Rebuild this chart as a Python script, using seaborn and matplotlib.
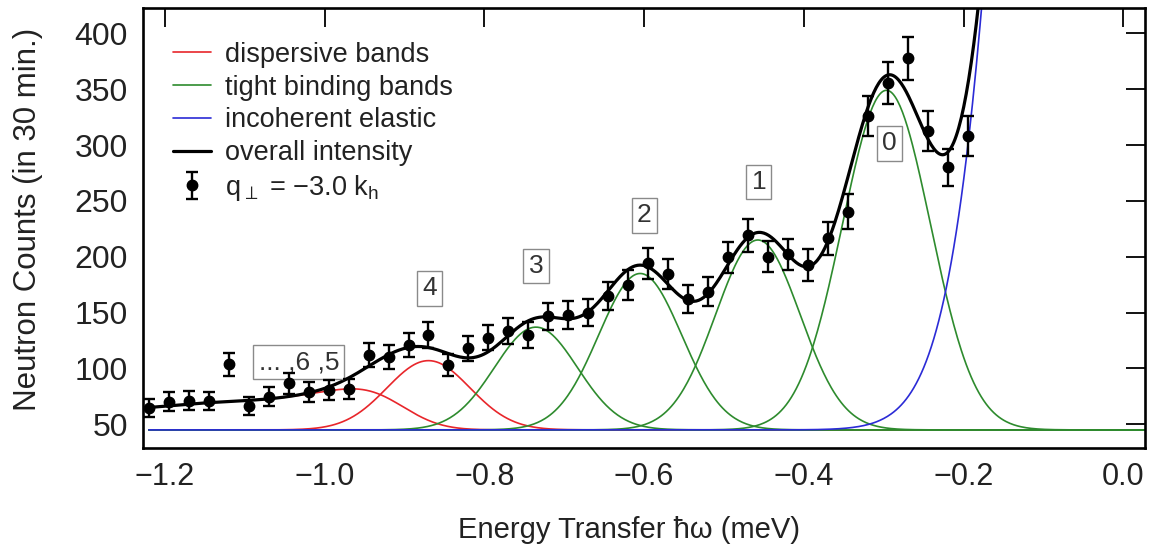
import numpy as np
import matplotlib
matplotlib.use("Agg")
import matplotlib.pyplot as plt
import seaborn as sns

# measured points: energy transfer (meV), counts, error
energy = [-1.220, -1.195, -1.170, -1.145, -1.120, -1.095, -1.070, -1.045, -1.020, -0.995,
          -0.970, -0.945, -0.920, -0.895, -0.870, -0.845, -0.820, -0.795, -0.770, -0.745,
          -0.720, -0.695, -0.670, -0.645, -0.620, -0.595, -0.570, -0.545, -0.520, -0.495,
          -0.470, -0.445, -0.420, -0.395, -0.370, -0.345, -0.320, -0.295, -0.270, -0.245,
          -0.220, -0.195]
counts = [64.3, 70.2, 71.1, 70.8, 103.7, 66.3, 74.7, 86.7, 79.1, 80.7,
          81.3, 112.0, 110.2, 120.9, 129.9, 103.0, 118.0, 127.5, 133.8, 129.9,
          146.9, 147.8, 149.9, 164.8, 174.7, 194.1, 184.5, 161.9, 168.7, 199.5,
          219.4, 200.0, 202.1, 192.6, 216.5, 240.3, 326.0, 355.2, 377.6, 312.8,
          280.0, 308.1]
errors = [8.0, 8.4, 8.4, 8.4, 10.2, 8.1, 8.6, 9.3, 8.9, 9.0,
          9.0, 10.6, 10.5, 11.0, 11.4, 10.1, 10.9, 11.3, 11.6, 11.4,
          12.1, 12.2, 12.2, 12.8, 13.2, 13.9, 13.6, 12.7, 13.0, 14.1,
          14.8, 14.1, 14.2, 13.9, 14.7, 15.5, 18.1, 18.8, 19.4, 17.7,
          16.7, 17.6]

background = 45.0

# tight binding bands 0..3
tb_centers = [-0.2967, -0.4577, -0.605, -0.7355]
tb_amps = [304, 170, 140, 92]
tb_widths = [0.055, 0.053, 0.052, 0.052]

# dispersive band 4 and the combined bands "..., 6, 5"
band4 = (-0.870, 62, 0.052)
disp_centers = [-0.94, -1.01, -1.08, -1.15, -1.22, -1.29]
disp_amps = [28, 20, 16.3, 15.4, 12.2, 10.5]
disp_width = 0.045

# incoherent elastic line
elastic = (0.0, 2650, 0.09)

band_labels = ["0", "1", "2", "3", "4", "... ,6 ,5"]
label_x = [-0.2934, -0.4564, -0.600, -0.7355, -0.8685, -1.0323]
label_y = [301.5, 267.1, 237.0, 191.7, 171.7, 105.7]

RED = "#e8262b"
GREEN = "#2e8b2e"
BLUE = "#2b2bd6"
TEXT = "#222222"


def gauss(x, c, a, s):
    return a * np.exp(-(x - c) ** 2 / (2 * s ** 2))


sns.set_theme(style="white")
plt.rcParams["font.family"] = ["Liberation Sans", "DejaVu Sans"]
plt.rcParams["mathtext.fontset"] = "custom"
plt.rcParams["mathtext.rm"] = "Liberation Sans"
plt.rcParams["text.color"] = TEXT
plt.rcParams["axes.labelcolor"] = TEXT

fig = plt.figure(figsize=(11.5, 5.57), dpi=100)
ax = fig.add_axes([0.1246, 0.1951, 0.8711, 0.79])

xg = np.linspace(-1.22, 0.03, 800)

disp_sum = sum(gauss(xg, c, a, disp_width) for c, a in zip(disp_centers, disp_amps))
red_curves = [disp_sum, gauss(xg, *band4)]
green_curves = [gauss(xg, c, a, s) for c, a, s in zip(tb_centers, tb_amps, tb_widths)]
blue_curve = gauss(xg, *elastic)
total = background + sum(red_curves) + sum(green_curves) + blue_curve

for i, yc in enumerate(red_curves):
    sns.lineplot(x=xg, y=background + yc, color=RED, lw=1.2, ax=ax,
                 label="dispersive bands" if i == 0 else None)
for i, yc in enumerate(green_curves):
    sns.lineplot(x=xg, y=background + yc, color=GREEN, lw=1.2, ax=ax,
                 label="tight binding bands" if i == 0 else None)
sns.lineplot(x=xg, y=background + blue_curve, color=BLUE, lw=1.2, ax=ax,
             label="incoherent elastic")
sns.lineplot(x=xg, y=total, color="black", lw=2.3, ax=ax, label="overall intensity")

ax.errorbar(energy, counts, yerr=errors, fmt="o", color="black", ms=7.5,
            elinewidth=1.7, capsize=4, capthick=1.7,
            label=r"q$_{\perp}$ = $-$3.0 k$_{\mathrm{h}}$", zorder=5)

for t, x, y in zip(band_labels, label_x, label_y):
    ax.text(x, y, t, ha="center", va="center", fontsize=19, color="#333333",
            bbox=dict(boxstyle="square,pad=0.2", fc="white", ec="#8a8a8a", lw=1.0))

ax.set_xlim(-1.227, 0.027)
ax.set_ylim(28.5, 422.4)
ax.set_xticks([-1.2, -1.0, -0.8, -0.6, -0.4, -0.2, 0.0])
ax.set_xticklabels(["\u22121.2", "\u22121.0", "\u22120.8", "\u22120.6",
                    "\u22120.4", "\u22120.2", "0.0"])
ax.set_yticks([50, 100, 150, 200, 250, 300, 350, 400])
ax.tick_params(direction="in", length=14, width=1.3, top=True, right=True,
               labelsize=22, colors="black", labelcolor=TEXT)
ax.tick_params(axis="x", pad=10)
ax.tick_params(axis="y", labelsize=23, pad=11)
for sp in ax.spines.values():
    sp.set_linewidth(1.9)
    sp.set_color("black")

ax.set_xlabel("Energy Transfer \u0127\u03c9 (meV)", fontsize=21)
ax.set_ylabel("Neutron Counts (in 30 min.)", fontsize=22.5)
ax.xaxis.set_label_coords(0.485, -0.153)
ax.yaxis.set_label_coords(-0.1, 0.52)

handles, labels = ax.get_legend_handles_labels()
ax.legend(handles, labels, loc="upper left", bbox_to_anchor=(0.030, 0.924),
          frameon=False, fontsize=19.5, borderaxespad=0, borderpad=0,
          labelspacing=0.25, handlelength=1.4, handletextpad=0.5)

fig.savefig("out.png", dpi=100)
